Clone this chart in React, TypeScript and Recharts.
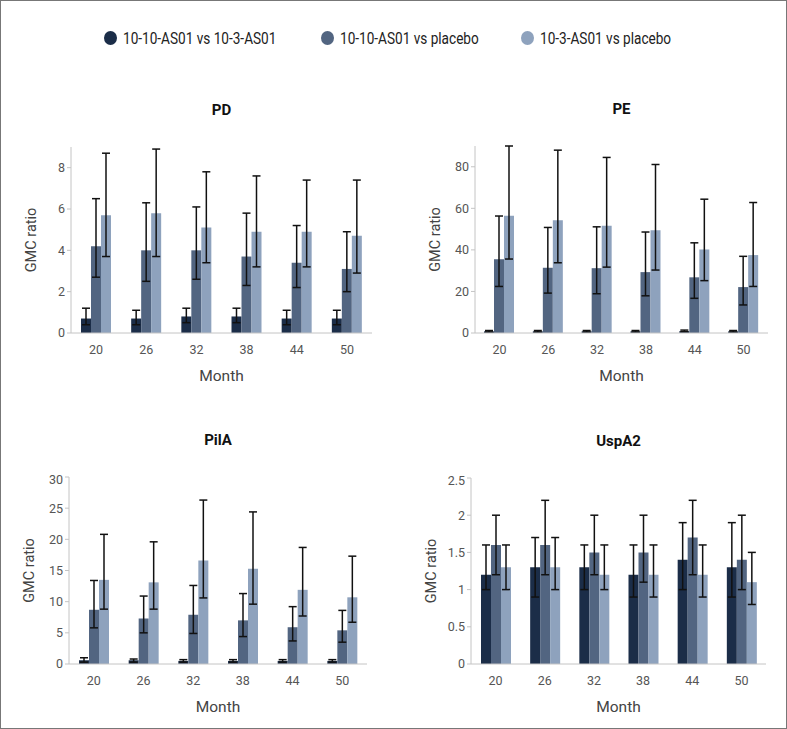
import React from 'react';
import { BarChart, Bar, XAxis, YAxis, ErrorBar, Label } from 'recharts';

const months = ['20', '26', '32', '38', '44', '50'];

const seriesNames = ['10-10-AS01 vs 10-3-AS01', '10-10-AS01 vs placebo', '10-3-AS01 vs placebo'];
const seriesColors = ['#1b2d48', '#526581', '#8ea2bd'];

// PD
const pdMid1 = [0.7, 0.7, 0.8, 0.8, 0.7, 0.7];
const pdLo1 = [0.4, 0.4, 0.5, 0.5, 0.4, 0.4];
const pdHi1 = [1.2, 1.1, 1.2, 1.2, 1.1, 1.1];
const pdMid2 = [4.2, 4.0, 4.0, 3.7, 3.4, 3.1];
const pdLo2 = [2.7, 2.5, 2.6, 2.3, 2.2, 2.0];
const pdHi2 = [6.5, 6.3, 6.1, 5.8, 5.2, 4.9];
const pdMid3 = [5.7, 5.8, 5.1, 4.9, 4.9, 4.7];
const pdLo3 = [3.7, 3.7, 3.4, 3.2, 3.2, 2.9];
const pdHi3 = [8.7, 8.9, 7.8, 7.6, 7.4, 7.4];
const pdTicks = [0, 2, 4, 6, 8];

// PE
const peMid1 = [0.8, 0.8, 0.8, 0.8, 0.9, 0.8];
const peLo1 = [0.5, 0.5, 0.5, 0.5, 0.6, 0.5];
const peHi1 = [1.2, 1.2, 1.2, 1.2, 1.4, 1.2];
const peMid2 = [35.5, 31.4, 31.2, 29.3, 26.8, 22.1];
const peLo2 = [22.4, 19.2, 18.9, 17.9, 16.7, 13.5];
const peHi2 = [56.3, 50.8, 51.1, 48.6, 43.4, 36.9];
const peMid3 = [56.4, 54.3, 51.6, 49.5, 40.2, 37.5];
const peLo3 = [35.6, 33.8, 31.7, 30.3, 25.2, 22.4];
const peHi3 = [90, 88, 84.5, 81.1, 64.4, 62.8];
const peTicks = [0, 20, 40, 60, 80];

// PilA
const pilaMid1 = [0.6, 0.6, 0.5, 0.5, 0.5, 0.5];
const pilaLo1 = [0.3, 0.3, 0.3, 0.3, 0.3, 0.3];
const pilaHi1 = [1.0, 0.8, 0.7, 0.7, 0.7, 0.7];
const pilaMid2 = [8.7, 7.3, 7.9, 7.0, 5.9, 5.4];
const pilaLo2 = [5.8, 5.0, 4.9, 4.4, 3.7, 3.5];
const pilaHi2 = [13.4, 10.9, 12.6, 11.3, 9.2, 8.6];
const pilaMid3 = [13.5, 13.1, 16.6, 15.3, 11.9, 10.7];
const pilaLo3 = [8.8, 8.8, 10.6, 9.6, 7.7, 6.7];
const pilaHi3 = [20.8, 19.6, 26.3, 24.4, 18.7, 17.3];
const pilaTicks = [0, 5, 10, 15, 20, 25, 30];

// UspA2
const uspMid1 = [1.2, 1.3, 1.3, 1.2, 1.4, 1.3];
const uspLo1 = [1.0, 0.9, 1.0, 0.9, 1.0, 0.9];
const uspHi1 = [1.6, 1.7, 1.6, 1.6, 1.9, 1.9];
const uspMid2 = [1.6, 1.6, 1.5, 1.5, 1.7, 1.4];
const uspLo2 = [1.2, 1.2, 1.2, 1.1, 1.2, 1.0];
const uspHi2 = [2.0, 2.2, 2.0, 2.0, 2.2, 2.0];
const uspMid3 = [1.3, 1.3, 1.2, 1.2, 1.2, 1.1];
const uspLo3 = [1.0, 1.0, 1.0, 0.9, 0.9, 0.8];
const uspHi3 = [1.6, 1.7, 1.6, 1.6, 1.6, 1.5];
const uspTicks = [0, 0.5, 1, 1.5, 2, 2.5];

const FONT = "Roboto, 'Liberation Sans', sans-serif";

function buildRows(mids: number[][], los: number[][], his: number[][]) {
  return months.map((m, i) => {
    const row: Record<string, any> = { month: m };
    mids.forEach((mid, s) => {
      row['s' + s] = mid[i];
      row['e' + s] = [mid[i] - los[s][i], his[s][i] - mid[i]];
    });
    return row;
  });
}

const panels = [
  {
    title: 'PD',
    rows: buildRows([pdMid1, pdMid2, pdMid3], [pdLo1, pdLo2, pdLo3], [pdHi1, pdHi2, pdHi3]),
    ticks: pdTicks, max: 9, axisX: 70, plotTop: 146, plotBottom: 332, plotRight: 371,
  },
  {
    title: 'PE',
    rows: buildRows([peMid1, peMid2, peMid3], [peLo1, peLo2, peLo3], [peHi1, peHi2, peHi3]),
    ticks: peTicks, max: 90, axisX: 474, plotTop: 145, plotBottom: 332, plotRight: 767,
  },
  {
    title: 'PilA',
    rows: buildRows([pilaMid1, pilaMid2, pilaMid3], [pilaLo1, pilaLo2, pilaLo3], [pilaHi1, pilaHi2, pilaHi3]),
    ticks: pilaTicks, max: 30, axisX: 68, plotTop: 476, plotBottom: 663, plotRight: 366,
  },
  {
    title: 'UspA2',
    rows: buildRows([uspMid1, uspMid2, uspMid3], [uspLo1, uspLo2, uspLo3], [uspHi1, uspHi2, uspHi3]),
    ticks: uspTicks, max: 2.5, axisX: 470, plotTop: 477, plotBottom: 663, plotRight: 765,
  },
];

const legendLefts = [103, 320, 520];

const Panel = ({ p }: { p: (typeof panels)[number] }) => {
  const mLeft = 15;
  const yW = 45;
  const xH = 56;
  const width = p.plotRight - p.axisX + 65;
  const height = p.plotBottom - p.plotTop + 5 + xH;
  return (
    <>
      <div
        style={{
          position: 'absolute',
          left: p.axisX,
          width: p.plotRight - p.axisX,
          top: p.plotTop - 46,
          textAlign: 'center',
          fontWeight: 'bold',
          fontSize: 15,
          color: '#111',
        }}
      >
        {p.title}
      </div>
      <div style={{ position: 'absolute', left: p.axisX - mLeft - yW, top: p.plotTop - 5 }}>
        <BarChart
          width={width}
          height={height}
          data={p.rows}
          margin={{ top: 5, right: 5, left: mLeft, bottom: 0 }}
          barGap={0}
          barSize={10}
          style={{ fontFamily: FONT }}
        >
          <XAxis
            dataKey="month"
            height={xH}
            tickLine={false}
            axisLine={{ stroke: '#c4c4c4' }}
            tick={{ fill: '#555', fontSize: 12.5 }}
            tickMargin={6}
          >
            <Label value="Month" position="insideBottom" offset={8} style={{ fill: '#444', fontSize: 15.5 }} />
          </XAxis>
          <YAxis
            width={yW}
            domain={[0, p.max]}
            ticks={p.ticks}
            allowDataOverflow
            tickSize={4}
            tickLine={{ stroke: '#c4c4c4' }}
            axisLine={{ stroke: '#c4c4c4' }}
            tick={{ fill: '#555', fontSize: 12.5 }}
          >
            <Label
              value="GMC ratio"
              angle={-90}
              position="insideLeft"
              offset={5}
              style={{ fill: '#444', fontSize: 14.5, textAnchor: 'middle' }}
            />
          </YAxis>
          {seriesColors.map((c, s) => (
            <Bar key={s} dataKey={'s' + s} fill={c} name={seriesNames[s]} isAnimationActive={false}>
              <ErrorBar dataKey={'e' + s} width={4} stroke="#111" strokeWidth={1.5} direction="y" />
            </Bar>
          ))}
        </BarChart>
      </div>
    </>
  );
};

export default function App() {
  return (
    <div
      style={{
        position: 'absolute',
        left: 0,
        top: 0,
        width: 787,
        height: 729,
        boxSizing: 'border-box',
        border: '1px solid #777',
        background: '#fff',
        fontFamily: FONT,
      }}
    >
      {seriesNames.map((n, s) => (
        <div
          key={n}
          style={{
            position: 'absolute',
            left: legendLefts[s],
            top: 27,
            display: 'flex',
            alignItems: 'center',
            fontSize: 17,
            color: '#222',
            whiteSpace: 'nowrap',
          }}
        >
          <span
            style={{
              display: 'inline-block',
              width: 13,
              height: 14,
              borderRadius: '50%',
              background: seriesColors[s],
              marginRight: 6,
            }}
          />
          <span style={{ display: 'inline-block', transform: 'scaleX(0.8)', transformOrigin: 'left center' }}>
            {n}
          </span>
        </div>
      ))}
      {panels.map((p) => (
        <Panel key={p.title} p={p} />
      ))}
    </div>
  );
}
